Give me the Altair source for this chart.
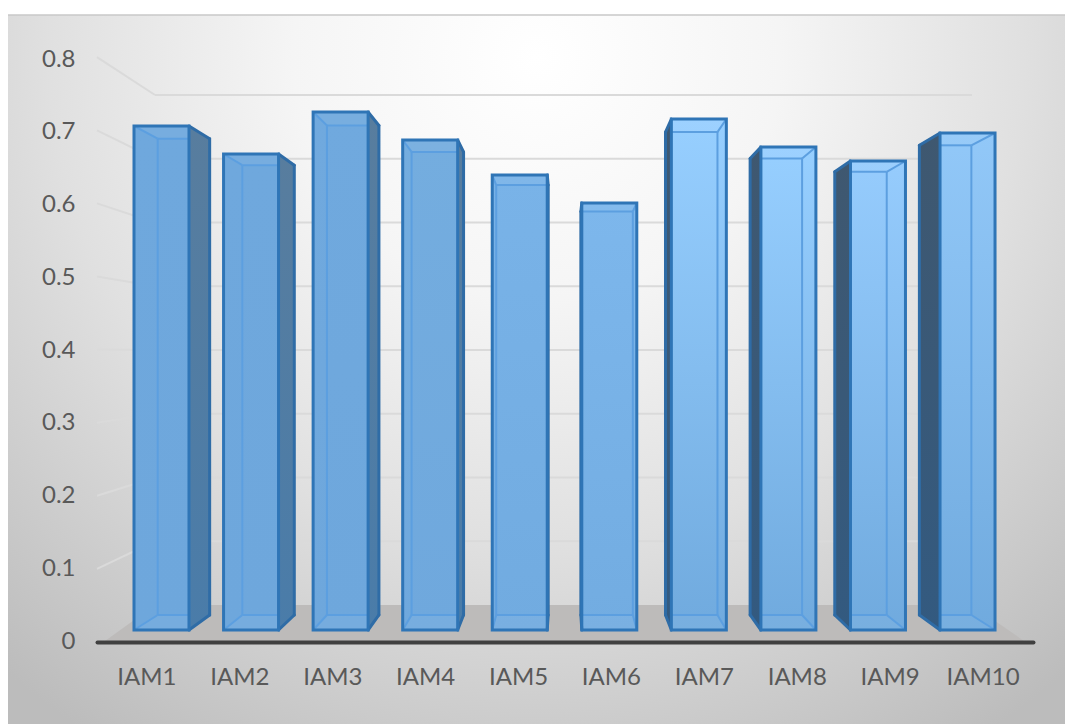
import altair as alt
import pandas as pd

# Chart values
categories = ["IAM1", "IAM2", "IAM3", "IAM4", "IAM5", "IAM6", "IAM7", "IAM8", "IAM9", "IAM10"]
values = [0.72, 0.68, 0.74, 0.70, 0.65, 0.61, 0.73, 0.69, 0.67, 0.71]
ticks = [0, 0.1, 0.2, 0.3, 0.4, 0.5, 0.6, 0.7, 0.8]

# Per-bar shading, from the top of the column to its foot
front_top = ["#6fa8dd", "#6fa8dd", "#70a9de", "#74addf", "#79b3e8", "#7db7ec",
             "#97cfff", "#97cfff", "#96ccfd", "#92c8f8"]
front_bottom = ["#6ea7dc", "#6ea7dc", "#6ea7dc", "#6fa8dd", "#71abe0", "#72ace1",
                "#70aade", "#70aade", "#70aade", "#70aade"]

FONT = "Lato"
TEXT = "#595959"
W, H = 936, 582
PAD = {"left": 97, "top": 60, "right": 32, "bottom": 82}

# Geometry space: x counts category slots, y is the bar value on the bars' front plane
SLOT_PX, FIRST_PX, BAR_SLOTS = 89.56, 134.0, 0.614
V_PX, BASE_PX = 700.0, 630.0
VANISH_X, VANISH_V, DEPTH = 4.81, 0.39, 0.945


def slot_of(px):
    return (px - FIRST_PX) / SLOT_PX


def value_of(py):
    return (BASE_PX - py) / V_PX


X_DOMAIN = [slot_of(PAD["left"]), slot_of(PAD["left"] + W)]
Y_DOMAIN = [value_of(PAD["top"] + H), value_of(PAD["top"])]


def gx(field="x"):
    return alt.X(f"{field}:Q", scale=alt.Scale(domain=X_DOMAIN, nice=False, zero=False), axis=None)


def gy(field="y"):
    return alt.Y(f"{field}:Q", scale=alt.Scale(domain=Y_DOMAIN, nice=False, zero=False), axis=None)


def back(x, v):
    return VANISH_X + DEPTH * (x - VANISH_X), VANISH_V + DEPTH * (v - VANISH_V)


def slices(group, poly):
    """Turn a convex polygon into x / y / y2 rows that an area mark can fill."""
    rows = []
    for x in sorted({p[0] for p in poly}):
        hits = []
        for (x0, y0), (x1, y1) in zip(poly, poly[1:] + poly[:1]):
            if min(x0, x1) <= x <= max(x0, x1):
                if x0 == x1:
                    hits += [y0, y1]
                else:
                    hits.append(y0 + (y1 - y0) * (x - x0) / (x1 - x0))
        rows.append({"g": group, "x": x, "y": max(hits), "y2": min(hits)})
    return rows


def edge_rows(group, a, b):
    return [{"g": group, "x": a[0], "y": a[1], "o": 0}, {"g": group, "x": b[0], "y": b[1], "o": 1}]


fronts, top_faces, bottom_faces, inner_edges, outer_edges = [], [], [], [], []
right_faces, left_faces = [], []
for i, (name, v) in enumerate(zip(categories, values)):
    xl, xr = float(i), i + BAR_SLOTS
    bl, b0 = back(xl, 0)
    br, _ = back(xr, 0)
    _, bt = back(xl, v)
    fronts.append({"i": i, "x": xl, "x2": xr, "y": 0.0, "y2": v})
    top_faces += slices(name, [(xl, v), (xr, v), (br, bt), (bl, bt)])
    bottom_faces += slices(name, [(xl, 0.0), (xr, 0.0), (br, b0), (bl, b0)])
    # Interior edges of the glass column, seen through the front pane
    ilo, ihi = max(bl, xl), min(br, xr)
    inner_edges += edge_rows(f"{name}t", (ilo, bt), (ihi, bt))
    inner_edges += edge_rows(f"{name}b", (ilo, b0), (ihi, b0))
    if bl > xl:
        inner_edges += edge_rows(f"{name}l", (bl, b0), (bl, bt))
        inner_edges += edge_rows(f"{name}tl", (xl, v), (bl, bt))
        inner_edges += edge_rows(f"{name}bl", (xl, 0.0), (bl, b0))
    if br < xr:
        inner_edges += edge_rows(f"{name}r", (br, b0), (br, bt))
        inner_edges += edge_rows(f"{name}tr", (xr, v), (br, bt))
        inner_edges += edge_rows(f"{name}br", (xr, 0.0), (br, b0))
    # Side walls that stick out of the front pane
    if br > xr:
        right_faces += slices(name, [(xr, v), (br, bt), (br, b0), (xr, 0.0)])
        outer_edges += edge_rows(f"{name}Rt", (xr, v), (br, bt))
        outer_edges += edge_rows(f"{name}Rr", (br, bt), (br, b0))
        outer_edges += edge_rows(f"{name}Rb", (br, b0), (xr, 0.0))
    if bl < xl:
        left_faces += slices(name, [(xl, v), (bl, bt), (bl, b0), (xl, 0.0)])
        outer_edges += edge_rows(f"{name}Lt", (xl, v), (bl, bt))
        outer_edges += edge_rows(f"{name}Ll", (bl, bt), (bl, b0))
        outer_edges += edge_rows(f"{name}Lb", (bl, b0), (xl, 0.0))

# Wall gridlines: one run along the left wall, one along the back wall
AX_LEFT, WALL_LEFT, WALL_RIGHT = slot_of(97), slot_of(155), slot_of(972)
grid_rows = []
for t in ticks[1:]:
    front_v = value_of(642 - 731 * t)
    wall_v = value_of(605 - 637.5 * t)
    grid_rows += edge_rows(f"s{t}", (AX_LEFT, front_v), (WALL_LEFT, wall_v))
    grid_rows += edge_rows(f"b{t}", (WALL_LEFT, wall_v), (WALL_RIGHT, wall_v))

floor_rows = slices("floor", [(slot_of(105), value_of(641)), (slot_of(155), value_of(605)),
                              (slot_of(972), value_of(605)), (slot_of(1024), value_of(641))])

one = alt.Data(values=[{}])
# The backdrop runs past the bottom of the page so its radial shading stays round
panel_fill = alt.Gradient(
    gradient="radial", x1=0.5, y1=0.03, r1=0.0, x2=0.5, y2=0.03, r2=0.58,
    stops=[alt.GradientStop(offset=0.0, color="#ffffff"),
           alt.GradientStop(offset=0.3, color="#f5f5f5"),
           alt.GradientStop(offset=0.6, color="#e0e0e0"),
           alt.GradientStop(offset=1.0, color="#bcbcbc")],
)
panel = alt.Chart(one).mark_rect(fill=panel_fill).encode(
    x=alt.value(8 - PAD["left"]), x2=alt.value(1065 - PAD["left"]),
    y=alt.value(15 - PAD["top"]), y2=alt.value(1415 - PAD["top"]),
)
panel_edge = alt.Chart(one).mark_rule(color="#c9c9c9", strokeWidth=1.5).encode(
    x=alt.value(8 - PAD["left"]), x2=alt.value(1065 - PAD["left"]), y=alt.value(15 - PAD["top"]),
)


def lines(rows, **style):
    return alt.Chart(pd.DataFrame(rows)).mark_line(**style).encode(
        x=gx(), y=gy(), detail="g:N", order="o:Q")


def faces(rows, **style):
    return alt.Chart(pd.DataFrame(rows)).mark_area(orient="vertical", **style).encode(
        x=gx(), y=gy(), y2="y2:Q", detail="g:N")


def vertical(c0, c1):
    return alt.Gradient(gradient="linear", x1=0, y1=0, x2=0, y2=1,
                        stops=[alt.GradientStop(offset=0, color=c0), alt.GradientStop(offset=1, color=c1)])


front_layers = [
    alt.Chart(pd.DataFrame([f])).mark_rect(fill=vertical(front_top[f["i"]], front_bottom[f["i"]])).encode(
        x=gx(), x2="x2:Q", y=gy(), y2="y2:Q")
    for f in fronts
]
front_outline = alt.Chart(pd.DataFrame(fronts)).mark_rect(
    fillOpacity=0, stroke="#2f75b6", strokeWidth=3).encode(x=gx(), x2="x2:Q", y=gy(), y2="y2:Q")

# The two axes own their scales; every drawn face shares the geometry scales above
x_axis = alt.Chart(pd.DataFrame({"c": categories})).mark_point(opacity=0).encode(
    x=alt.X("c:N", sort=categories,
            scale=alt.Scale(type="band", paddingInner=0, paddingOuter=0.0377),
            axis=alt.Axis(title=None, orient="bottom", ticks=False, grid=False, labelAngle=0,
                          labelFont=FONT, labelFontSize=24, labelColor=TEXT, labelPadding=23,
                          domainColor="#404040", domainWidth=4, domainCap="round", zindex=1)),
    y=alt.value(H),
)
y_axis = alt.Chart(pd.DataFrame({"t": ticks})).mark_point(opacity=0).encode(
    y=alt.Y("t:Q", scale=alt.Scale(domain=[0, 0.8], nice=False),
            axis=alt.Axis(title=None, orient="left", values=ticks, format=".1~f", ticks=False,
                          domain=False, grid=False, labelFont=FONT, labelFontSize=24,
                          labelColor=TEXT, labelPadding=22, labelOffset=-1, zindex=1)),
    x=alt.value(0),
)

layers = [panel, panel_edge, lines(grid_rows, color="#dadada", strokeWidth=2),
          faces(floor_rows, color="#bdbbba")]
layers += front_layers
layers += [
    faces(bottom_faces, color="#ffffff", opacity=0.06),
    faces(top_faces, color="#ffffff", opacity=0.06),
    faces(right_faces, color=vertical("#587d9e", "#4a7ca9")),
    faces(left_faces, color=vertical("#3f5870", "#335a80")),
    lines(inner_edges, color="#5c9fe0", strokeWidth=2),
    lines(outer_edges, color="#2f6ca6", strokeWidth=3, strokeCap="round"),
    front_outline,
    x_axis,
    y_axis,
]

chart = (
    alt.layer(*layers)
    .resolve_scale(x="independent", y="independent")
    .properties(width=W, height=H, padding=PAD, autosize=alt.AutoSizeParams(type="none"), background="#ffffff")
    .configure_view(stroke=None)
)

chart.save("out.html", embed_options={"renderer": "svg", "actions": False})
